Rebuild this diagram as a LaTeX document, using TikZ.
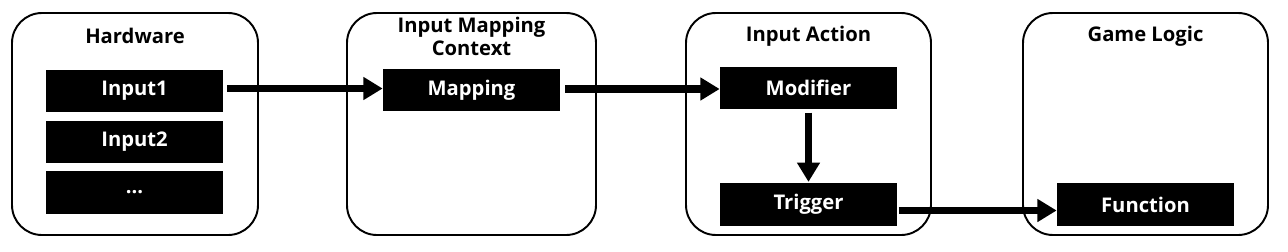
\documentclass[tikz,border=0pt]{standalone}
\usepackage{fontspec}
\setmainfont{Open Sans}
\usepackage{tikz}
\usetikzlibrary{arrows.meta,positioning,calc}

\begin{document}
\begin{tikzpicture}[
  group/.style={draw, line width=1.1pt, rounded corners=0.6cm, minimum width=4.92cm, minimum height=4.44cm},
  title/.style={font=\bfseries\fontsize{11.5}{13}\selectfont, align=center},
  unit/.style={fill=black, text=white, font=\bfseries\fontsize{11.5}{13}\selectfont, minimum width=3.54cm, minimum height=0.85cm, inner sep=0pt},
  flow/.style={-{Triangle[length=11pt, width=12.5pt]}, line width=4pt}
]
  \useasboundingbox (0,0) rectangle (25.76,-5.02);

  % containers
  \node[group] (hw) at (2.70,-2.48) {};
  \node[group, minimum width=4.98cm] (imc) at (9.43,-2.48) {};
  \node[group, minimum width=4.90cm] (ia) at (16.17,-2.48) {};
  \node[group, minimum width=4.90cm] (gl) at (22.91,-2.48) {};

  \node[title] (hwtitle) at (2.70,-0.72) {Hardware};
  \node[title] (imctitle) at (9.43,-0.72) {Input Mapping\\Context};
  \node[title] (iatitle) at (16.17,-0.72) {Input Action};
  \node[title] (gltitle) at (22.91,-0.72) {Game Logic};

  % inner blocks
  \node[unit] (input1) at (2.69,-1.82) {Input1};
  \node[unit] (input2) at (2.69,-2.84) {Input2};
  \node[unit] (more) at (2.69,-3.85) {...};
  \node[unit] (mapping) at (9.43,-1.80) {Mapping};
  \node[unit] (modifier) at (16.17,-1.76) {Modifier};
  \node[unit] (trigger) at (16.17,-4.09) {Trigger};
  \node[unit] (function) at (22.91,-4.09) {Function};

  \draw[flow, shorten <=0.08cm] ([yshift=0.05cm]input1.east) -- ([yshift=0.05cm]input1.east -| mapping.west);
  \draw[flow, shorten <=0.1cm] ([yshift=0.02cm]mapping.east) -- ([yshift=0.02cm]mapping.east -| modifier.west);
  \draw[flow, shorten <=0.06cm, shorten >=0.02cm] (modifier) -- (trigger);
  \draw[flow, shorten <=0.03cm] ([yshift=-0.12cm]trigger.east) -- ([yshift=-0.12cm]trigger.east -| function.west);
\end{tikzpicture}
\end{document}
